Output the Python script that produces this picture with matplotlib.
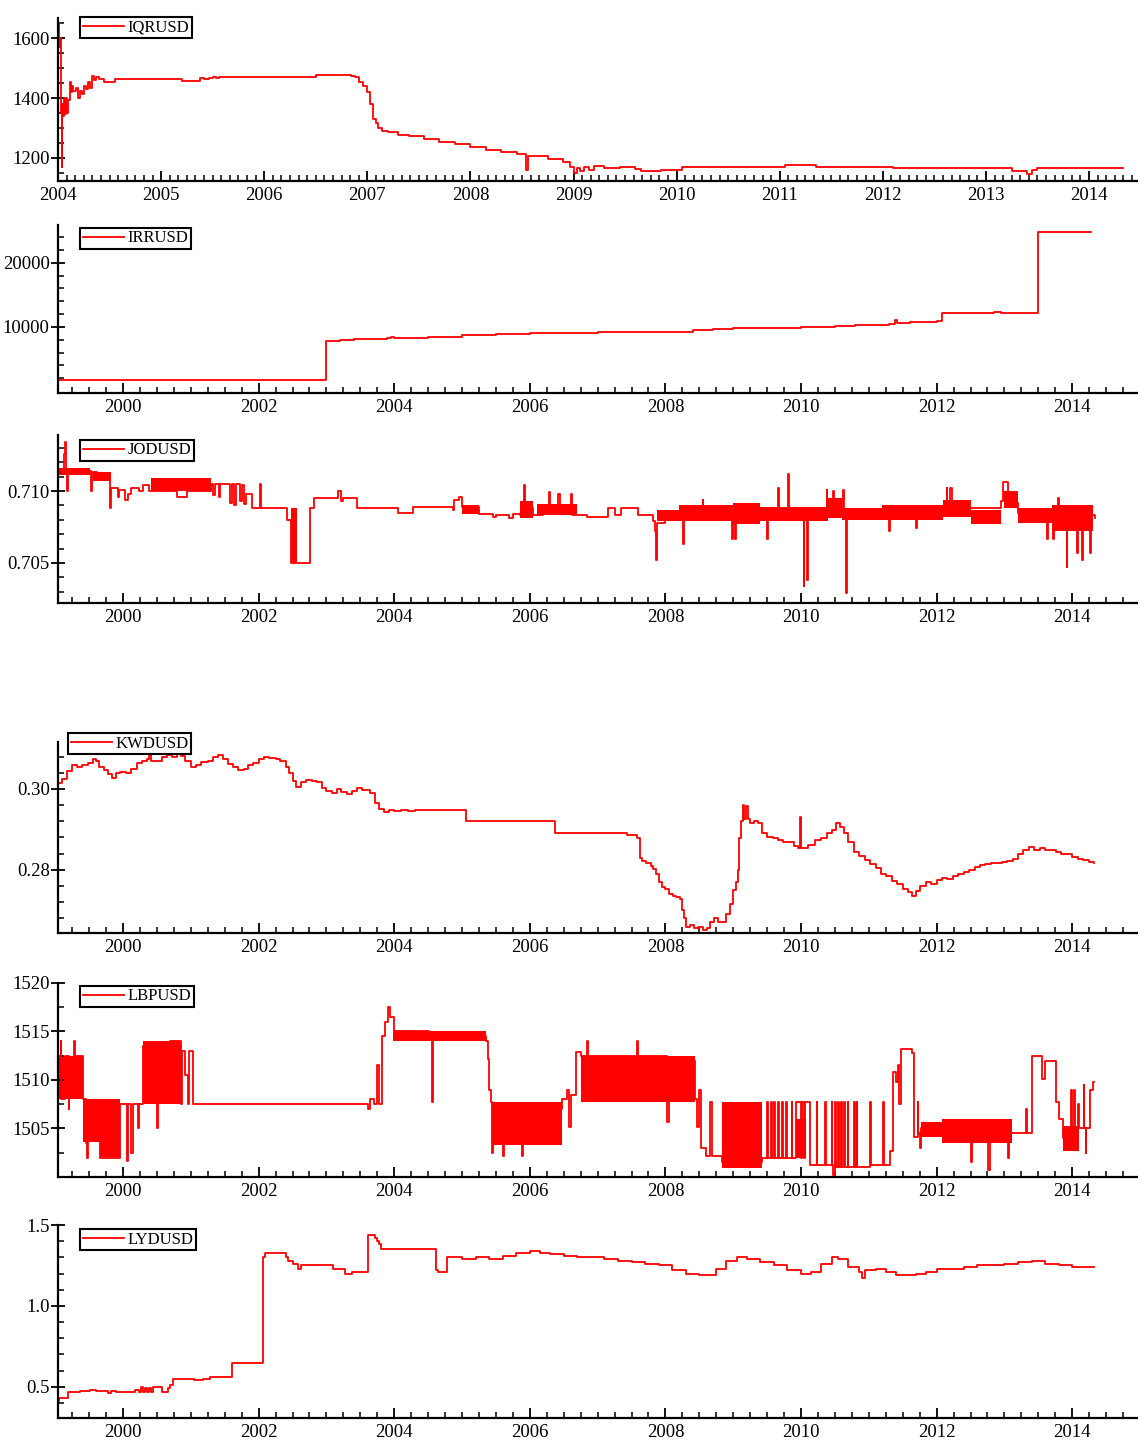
import numpy as np
import matplotlib
matplotlib.use("Agg")
import matplotlib.pyplot as plt
from matplotlib.ticker import FixedLocator, FormatStrFormatter

plt.rcParams['font.family'] = ['Liberation Serif', 'DejaVu Serif']

# ---------------- DATA (decimal years) ----------------
iqr_dates = [2004.00, 2004.008, 2004.015, 2004.025, 2004.035, 2004.04, 2004.05, 2004.06, 2004.07, 2004.08,
             2004.09, 2004.10, 2004.115, 2004.13, 2004.14, 2004.15, 2004.17, 2004.19, 2004.21, 2004.23,
             2004.25, 2004.27, 2004.29, 2004.31, 2004.33, 2004.35, 2004.37, 2004.40, 2004.45, 2004.55,
             2005.20, 2005.38, 2005.42, 2005.46, 2005.50, 2005.53, 2005.56, 2006.50, 2006.80, 2006.84,
             2006.88, 2006.92, 2006.96, 2007.00, 2007.03, 2007.06, 2007.08, 2007.10, 2007.14, 2007.20,
             2007.30, 2007.40, 2007.55, 2007.70, 2007.85, 2008.00, 2008.15, 2008.30, 2008.45, 2008.54,
             2008.56, 2008.60, 2008.75, 2008.90, 2008.97, 2009.00, 2009.03, 2009.06, 2009.10, 2009.15,
             2009.20, 2009.30, 2009.45, 2009.60, 2009.65, 2009.85, 2010.05, 2011.05, 2011.35, 2012.10,
             2013.25, 2013.40, 2013.45, 2013.50, 2014.00, 2014.33]
iqr_vals = [1650, 1570, 1600, 1350, 1170, 1380, 1340, 1400, 1345, 1400,
            1350, 1395, 1455, 1420, 1440, 1425, 1435, 1400, 1425, 1415,
            1440, 1430, 1455, 1435, 1475, 1460, 1470, 1462, 1455, 1462,
            1457, 1468, 1462, 1466, 1470, 1466, 1470, 1476, 1478, 1472,
            1470, 1455, 1440, 1420, 1380, 1330, 1315, 1300, 1290, 1285,
            1278, 1272, 1262, 1252, 1245, 1237, 1228, 1220, 1212, 1160,
            1205, 1205, 1195, 1185, 1170, 1150, 1165, 1155, 1170, 1160,
            1172, 1165, 1170, 1162, 1158, 1160, 1170, 1176, 1170, 1166,
            1158, 1148, 1160, 1166, 1166, 1166]

irr_dates = [1999.04, 2002.99, 2003.20, 2003.40, 2003.90, 2003.95, 2004.00, 2004.50, 2005.00, 2005.50,
             2006.00, 2006.50, 2007.00, 2007.50, 2008.00, 2008.20, 2008.40, 2008.70, 2009.00, 2009.20,
             2009.50, 2010.00, 2010.50, 2010.80, 2011.00, 2011.30, 2011.38, 2011.42, 2011.60, 2011.85,
             2012.00, 2012.08, 2012.85, 2012.95, 2013.50, 2014.28]
irr_vals = [1750, 7800, 7950, 8050, 8250, 8500, 8300, 8500, 8700, 8900,
            9050, 9100, 9200, 9250, 9150, 9250, 9450, 9650, 9850, 9800,
            9850, 9950, 10100, 10300, 10350, 10500, 11100, 10600, 10700, 10800,
            11000, 12200, 12350, 12200, 24750, 24750]

jod_dates = [1999.04, 1999.13, 1999.145, 1999.16, 1999.18, 1999.195, 1999.53, 1999.545, 1999.62, 1999.70,
             1999.78, 1999.815, 1999.83, 1999.92, 1999.94, 2000.03, 2000.07, 2000.12, 2000.24, 2000.30,
             2000.38, 2000.80, 2000.94, 2001.30, 2001.33, 2001.36, 2001.41, 2001.43, 2001.58, 2001.60,
             2001.64, 2001.66, 2001.73, 2001.75, 2001.79, 2001.82, 2001.90, 2002.02, 2002.035, 2002.42,
             2002.48, 2002.76, 2002.81, 2003.17, 2003.21, 2003.24, 2003.45, 2004.06, 2004.27, 2004.86,
             2004.88, 2004.95, 2005.00, 2005.25, 2005.45, 2005.50, 2005.70, 2005.75, 2005.85, 2005.90,
             2005.915, 2005.93, 2006.05, 2006.20, 2006.28, 2006.30, 2006.42, 2006.44, 2006.60, 2006.62,
             2006.85, 2007.15, 2007.25, 2007.35, 2007.60, 2007.82, 2007.85, 2007.86, 2007.87, 2008.00,
             2008.26, 2008.27, 2008.55, 2008.56, 2008.98, 2008.99, 2009.03, 2009.04, 2009.50, 2009.51,
             2009.66, 2009.67, 2009.81, 2009.82, 2010.04, 2010.05, 2010.09, 2010.10,
             2010.38, 2010.39, 2010.47, 2010.48, 2010.62, 2010.63, 2010.66, 2010.675, 2011.30, 2011.31,
             2011.70, 2011.71, 2012.15, 2012.16, 2012.20, 2012.22, 2012.95, 2012.98,
             2013.05, 2013.12, 2013.20, 2013.63, 2013.64, 2013.72, 2013.73, 2013.79, 2013.80, 2013.92,
             2013.93, 2014.07, 2014.08, 2014.15, 2014.16, 2014.26, 2014.27, 2014.34]
jod_vals = [0.7114, 0.7126, 0.7134, 0.7113, 0.7100, 0.7114, 0.7100, 0.7113, 0.7109, 0.7112,
            0.7108, 0.7088, 0.7102, 0.7096, 0.7101, 0.7094, 0.7098, 0.7102, 0.7100, 0.7104,
            0.7100, 0.7096, 0.7100, 0.7105, 0.7097, 0.7105, 0.7096, 0.7105, 0.7092, 0.7105,
            0.7090, 0.7105, 0.7093, 0.7104, 0.7091, 0.7098, 0.7088, 0.7105, 0.7088, 0.7080,
            0.7050, 0.7088, 0.7095, 0.7100, 0.7093, 0.7095, 0.7088, 0.7085, 0.7089, 0.7087,
            0.7094, 0.7096, 0.7089, 0.7084, 0.7082, 0.7083, 0.7081, 0.7084, 0.7083, 0.7090,
            0.7104, 0.7088, 0.7083, 0.7087, 0.7099, 0.7086, 0.7098, 0.7086, 0.7098, 0.7083,
            0.7082, 0.7088, 0.7083, 0.7088, 0.7083, 0.7079, 0.7072, 0.7052, 0.7078, 0.7084,
            0.7063, 0.7084, 0.7094, 0.7084, 0.7067, 0.7084, 0.7067, 0.7084, 0.7067, 0.7084,
            0.7102, 0.7084, 0.7112, 0.7084, 0.7034, 0.7083, 0.7038, 0.7083,
            0.7101, 0.7085, 0.7100, 0.7086, 0.7101, 0.7085, 0.7029, 0.7085, 0.7072, 0.7085,
            0.7074, 0.7085, 0.7102, 0.7088, 0.7102, 0.7088, 0.7093, 0.7106,
            0.7098, 0.7092, 0.7085, 0.7067, 0.7084, 0.7067, 0.7084, 0.7095, 0.7084, 0.7047,
            0.7083, 0.7057, 0.7083, 0.7052, 0.7083, 0.7057, 0.7083, 0.7081]
jod_band_start = [1999.04, 1999.56, 2000.41, 2002.48, 2005.00, 2005.85, 2006.10, 2007.87, 2008.20, 2009.00,
                  2009.40, 2010.40, 2010.60, 2011.20, 2012.10, 2012.50, 2013.00, 2013.20, 2013.70]
jod_band_end = [1999.52, 1999.82, 2001.30, 2002.56, 2005.25, 2006.05, 2006.70, 2008.20, 2009.00, 2009.40,
                2010.40, 2010.60, 2011.20, 2012.10, 2012.50, 2012.95, 2013.20, 2013.70, 2014.30]
jod_band_lo = [0.7111, 0.7107, 0.7100, 0.7050, 0.7084, 0.7081, 0.7083, 0.7079, 0.7079, 0.7077,
               0.7079, 0.7081, 0.7080, 0.7080, 0.7082, 0.7077, 0.7088, 0.7078, 0.7072]
jod_band_hi = [0.7116, 0.7113, 0.7109, 0.7088, 0.7090, 0.7093, 0.7091, 0.7087, 0.7090, 0.7092,
               0.7089, 0.7095, 0.7088, 0.7090, 0.7094, 0.7087, 0.7100, 0.7088, 0.7090]

kwd_dates = [1999.04, 1999.10, 1999.18, 1999.25, 1999.32, 1999.40, 1999.48, 1999.55, 1999.60, 1999.65,
             1999.72, 1999.78, 1999.84, 1999.90, 1999.96, 2000.05, 2000.12, 2000.20, 2000.28, 2000.35,
             2000.38, 2000.42, 2000.50, 2000.58, 2000.65, 2000.72, 2000.80, 2000.86, 2000.92, 2001.00,
             2001.08, 2001.15, 2001.25, 2001.32, 2001.40, 2001.48, 2001.55, 2001.62, 2001.70, 2001.78,
             2001.85, 2001.92, 2002.00, 2002.08, 2002.15, 2002.25, 2002.32, 2002.40, 2002.45, 2002.50,
             2002.55, 2002.62, 2002.70, 2002.78, 2002.86, 2002.93, 2003.00, 2003.08, 2003.15, 2003.22,
             2003.30, 2003.38, 2003.45, 2003.52, 2003.60, 2003.65, 2003.72, 2003.78, 2003.85, 2003.92,
             2004.00, 2004.10, 2004.20, 2004.30, 2004.50, 2005.06, 2006.37, 2007.43, 2007.58, 2007.62,
             2007.66, 2007.72, 2007.78, 2007.82, 2007.86, 2007.90, 2007.95, 2008.00, 2008.05, 2008.11,
             2008.16, 2008.21, 2008.24, 2008.27, 2008.31, 2008.36, 2008.42, 2008.48, 2008.55, 2008.62,
             2008.66, 2008.72, 2008.78, 2008.85, 2008.90, 2008.95, 2009.00, 2009.04, 2009.07, 2009.09,
             2009.12, 2009.14, 2009.16, 2009.19, 2009.22, 2009.25, 2009.30, 2009.36, 2009.42, 2009.50,
             2009.58, 2009.66, 2009.74, 2009.82, 2009.90, 2009.96, 2009.99, 2010.00, 2010.10, 2010.20,
             2010.30, 2010.38, 2010.45, 2010.52, 2010.58, 2010.64, 2010.70, 2010.78, 2010.86, 2010.94,
             2011.02, 2011.10, 2011.18, 2011.26, 2011.34, 2011.42, 2011.50, 2011.58, 2011.64, 2011.70,
             2011.76, 2011.84, 2011.92, 2012.00, 2012.08, 2012.16, 2012.24, 2012.32, 2012.40, 2012.48,
             2012.56, 2012.64, 2012.72, 2012.80, 2012.88, 2012.96, 2013.04, 2013.12, 2013.20, 2013.28,
             2013.36, 2013.44, 2013.52, 2013.60, 2013.68, 2013.76, 2013.84, 2013.92, 2014.00, 2014.08,
             2014.16, 2014.24, 2014.32]
kwd_vals = [0.3015, 0.3025, 0.3045, 0.3058, 0.3055, 0.3060, 0.3065, 0.3075, 0.3070, 0.3055,
            0.3048, 0.3038, 0.3026, 0.3040, 0.3042, 0.3040, 0.3050, 0.3064, 0.3068, 0.3074,
            0.3088, 0.3070, 0.3068, 0.3078, 0.3085, 0.3078, 0.3088, 0.3082, 0.3070, 0.3055,
            0.3058, 0.3066, 0.3070, 0.3078, 0.3083, 0.3075, 0.3062, 0.3053, 0.3048, 0.3050,
            0.3060, 0.3065, 0.3075, 0.3080, 0.3077, 0.3075, 0.3068, 0.3055, 0.3040, 0.3020,
            0.3005, 0.3018, 0.3022, 0.3020, 0.3016, 0.3003, 0.2995, 0.2990, 0.3000, 0.2992,
            0.2988, 0.2995, 0.3003, 0.2998, 0.2998, 0.2990, 0.2965, 0.2950, 0.2943, 0.2947,
            0.2945, 0.2948, 0.2946, 0.2949, 0.2948, 0.2920, 0.2890, 0.2887, 0.2880, 0.2830,
            0.2822, 0.2818, 0.2810, 0.2802, 0.2790, 0.2770, 0.2757, 0.2752, 0.2740, 0.2735,
            0.2733, 0.2728, 0.2700, 0.2680, 0.2660, 0.2665, 0.2656, 0.2660, 0.2652, 0.2656,
            0.2670, 0.2680, 0.2672, 0.2670, 0.2690, 0.2715, 0.2750, 0.2770, 0.2800, 0.2880,
            0.2920, 0.2960, 0.2925, 0.2958, 0.2925, 0.2915, 0.2922, 0.2915, 0.2890, 0.2882,
            0.2878, 0.2875, 0.2870, 0.2868, 0.2860, 0.2855, 0.2930, 0.2855, 0.2862, 0.2875,
            0.2880, 0.2892, 0.2898, 0.2915, 0.2905, 0.2890, 0.2870, 0.2845, 0.2835, 0.2825,
            0.2815, 0.2805, 0.2790, 0.2785, 0.2772, 0.2765, 0.2752, 0.2745, 0.2735, 0.2748,
            0.2760, 0.2770, 0.2765, 0.2775, 0.2780, 0.2778, 0.2785, 0.2790, 0.2795, 0.2800,
            0.2808, 0.2812, 0.2815, 0.2818, 0.2816, 0.2820, 0.2822, 0.2828, 0.2838, 0.2848,
            0.2857, 0.2850, 0.2855, 0.2848, 0.2850, 0.2845, 0.2838, 0.2840, 0.2832, 0.2828,
            0.2825, 0.2820, 0.2818]

lbp_dates = [1999.04, 1999.08, 1999.09, 1999.14, 1999.20, 1999.21, 1999.28, 1999.29, 1999.41, 1999.45,
             1999.47, 1999.48, 1999.66, 1999.95, 2000.06, 2000.08, 2000.12, 2000.14, 2000.22, 2000.24,
             2000.30, 2000.50, 2000.52, 2000.70, 2000.85, 2000.87, 2000.92, 2000.96, 2000.98, 2001.03,
             2003.62, 2003.64, 2003.70, 2003.74, 2003.78, 2003.82, 2003.86, 2003.91, 2003.94, 2004.00,
             2004.52, 2004.55, 2004.57, 2005.35, 2005.38, 2005.40, 2005.42, 2005.44, 2005.46, 2005.60,
             2005.62, 2005.88, 2005.90, 2006.48, 2006.55, 2006.58, 2006.60, 2006.68, 2006.76, 2006.84,
             2006.86, 2007.58, 2007.60, 2008.03, 2008.05, 2008.43, 2008.47, 2008.50, 2008.53, 2008.60,
             2008.66, 2008.68, 2008.84, 2009.43, 2009.50, 2009.51, 2009.56, 2009.57, 2009.60, 2009.61,
             2009.66, 2009.67, 2009.72, 2009.73, 2009.78, 2009.79, 2009.86, 2009.87, 2009.92, 2010.00,
             2010.01, 2010.05, 2010.06, 2010.13, 2010.23, 2010.24, 2010.36, 2010.37, 2010.45, 2010.46,
             2010.47, 2010.50, 2010.51, 2010.55, 2010.56, 2010.59, 2010.60, 2010.64, 2010.65, 2010.69,
             2010.70, 2010.78, 2010.79, 2010.82, 2010.83, 2011.02, 2011.03, 2011.21, 2011.22, 2011.31,
             2011.35, 2011.40, 2011.43, 2011.45, 2011.47, 2011.64, 2011.66, 2011.72, 2011.73, 2011.75,
             2011.77, 2012.08, 2012.50, 2012.52, 2012.76, 2012.78, 2013.05, 2013.07, 2013.11, 2013.32,
             2013.33, 2013.40, 2013.56, 2013.60, 2013.76, 2013.80, 2013.86, 2013.98, 2013.99, 2014.03,
             2014.04, 2014.09, 2014.10, 2014.17, 2014.18, 2014.20, 2014.21, 2014.26, 2014.30, 2014.32]
lbp_vals = [1512.5, 1514.0, 1508.0, 1512.5, 1507.0, 1512.0, 1514.0, 1512.5, 1508.0, 1503.5,
            1502.0, 1507.5, 1502.0, 1507.5, 1501.7, 1507.5, 1502.5, 1507.5, 1505.0, 1507.5,
            1513.5, 1505.0, 1513.5, 1514.0, 1507.5, 1513.0, 1510.5, 1507.5, 1513.0, 1507.5,
            1507.0, 1508.0, 1507.5, 1511.5, 1507.5, 1514.5, 1516.0, 1517.5, 1516.5, 1515.0,
            1514.5, 1507.7, 1514.5, 1514.0, 1512.2, 1509.0, 1507.7, 1502.5, 1507.5, 1502.2,
            1507.0, 1502.2, 1507.0, 1508.0, 1509.0, 1505.2, 1508.5, 1512.9, 1512.5, 1514.0,
            1512.5, 1514.0, 1512.5, 1505.7, 1512.0, 1508.0, 1505.2, 1509.0, 1503.0, 1502.2,
            1507.7, 1502.2, 1501.5, 1502.0, 1507.7, 1502.0, 1507.7, 1502.0, 1507.7, 1502.0,
            1507.7, 1502.0, 1507.7, 1502.0, 1507.7, 1502.0, 1507.7, 1502.0, 1507.7, 1502.0,
            1507.7, 1502.0, 1507.7, 1501.2, 1507.7, 1501.2, 1507.7, 1501.2, 1507.7, 1501.2,
            1500.2, 1507.7, 1501.0, 1507.7, 1501.0, 1507.7, 1501.0, 1507.7, 1501.0, 1507.7,
            1501.0, 1507.7, 1501.0, 1507.7, 1501.0, 1507.7, 1501.2, 1507.7, 1501.2, 1502.7,
            1510.8, 1509.8, 1511.5, 1507.5, 1513.2, 1512.8, 1504.1, 1507.7, 1504.5, 1503.0,
            1505.0, 1505.0, 1501.5, 1504.5, 1500.7, 1504.5, 1502.0, 1504.5, 1504.5, 1507.0,
            1504.5, 1512.5, 1510.1, 1512.0, 1507.7, 1506.0, 1504.0, 1509.0, 1504.0, 1509.0,
            1504.0, 1507.5, 1505.0, 1509.5, 1505.0, 1502.5, 1505.0, 1509.0, 1509.8, 1509.8]
lbp_band_start = [1999.04, 1999.41, 1999.66, 2000.30, 2003.98, 2005.46, 2006.76, 2008.84, 2009.93, 2011.77,
                  2012.08, 2013.86]
lbp_band_end = [1999.41, 1999.66, 1999.95, 2000.85, 2005.35, 2006.48, 2008.43, 2009.43, 2010.07, 2012.08,
                2013.11, 2014.10]
lbp_band_lo = [1508.0, 1503.6, 1502.1, 1507.5, 1514.0, 1503.3, 1507.7, 1500.9, 1502.0, 1504.1,
               1503.5, 1502.7]
lbp_band_hi = [1512.5, 1508.0, 1508.0, 1514.0, 1515.0, 1507.7, 1512.5, 1507.7, 1506.0, 1505.7,
               1506.0, 1505.3]

lyd_dates = [1999.04, 1999.06, 1999.19, 1999.37, 1999.51, 1999.60, 1999.78, 1999.82, 1999.90, 2000.00,
             2000.13, 2000.18, 2000.24, 2000.26, 2000.30, 2000.32, 2000.36, 2000.38, 2000.42, 2000.44,
             2000.58, 2000.66, 2000.70, 2000.74, 2001.05, 2001.18, 2001.28, 2001.60, 2002.07, 2002.10,
             2002.40, 2002.44, 2002.50, 2002.58, 2002.62, 2002.75, 2003.10, 2003.27, 2003.37, 2003.62,
             2003.71, 2003.74, 2003.77, 2003.80, 2004.62, 2004.65, 2004.78, 2005.00, 2005.20, 2005.40,
             2005.60, 2005.80, 2006.00, 2006.15, 2006.30, 2006.50, 2006.70, 2006.90, 2007.10, 2007.30,
             2007.50, 2007.70, 2007.90, 2008.10, 2008.30, 2008.50, 2008.60, 2008.75, 2008.90, 2009.05,
             2009.20, 2009.40, 2009.60, 2009.80, 2010.00, 2010.15, 2010.30, 2010.45, 2010.55, 2010.70,
             2010.85, 2010.90, 2010.95, 2011.10, 2011.25, 2011.40, 2011.55, 2011.70, 2011.85, 2012.00,
             2012.20, 2012.40, 2012.60, 2012.80, 2013.00, 2013.20, 2013.40, 2013.60, 2013.80, 2014.00,
             2014.20, 2014.32]
lyd_vals = [0.41, 0.43, 0.465, 0.475, 0.48, 0.475, 0.46, 0.475, 0.47, 0.465,
            0.47, 0.48, 0.47, 0.50, 0.47, 0.49, 0.465, 0.49, 0.465, 0.50,
            0.465, 0.49, 0.51, 0.55, 0.54, 0.55, 0.56, 0.65, 1.305, 1.325,
            1.30, 1.28, 1.26, 1.23, 1.25, 1.25, 1.23, 1.195, 1.21, 1.44,
            1.42, 1.40, 1.38, 1.35, 1.22, 1.21, 1.30, 1.29, 1.30, 1.29,
            1.31, 1.33, 1.34, 1.33, 1.32, 1.31, 1.30, 1.30, 1.29, 1.28,
            1.27, 1.26, 1.25, 1.22, 1.20, 1.19, 1.19, 1.23, 1.28, 1.30,
            1.29, 1.27, 1.25, 1.22, 1.20, 1.21, 1.26, 1.30, 1.29, 1.24,
            1.21, 1.17, 1.22, 1.23, 1.21, 1.19, 1.19, 1.20, 1.21, 1.23,
            1.23, 1.24, 1.25, 1.25, 1.26, 1.27, 1.28, 1.26, 1.25, 1.24,
            1.24, 1.24]

# ---------------- LAYOUT ----------------
W, H = 1138, 1443
fig = plt.figure(figsize=(W / 100, H / 100), dpi=100)
RED = '#ff0000'
LW = 1.3
TICKFS = 13.5


def make_ax(top, bottom, left=58, right=1138):
    return fig.add_axes([left / W, 1 - bottom / H, (right - left) / W, (bottom - top) / H])


def style(ax, xlim, ylim, xmajor, xminor, ymajor, yminor, yfmt, leg_xy):
    ax.set_xlim(*xlim)
    ax.set_ylim(*ylim)
    for s in ['top', 'right']:
        ax.spines[s].set_visible(False)
    for s in ['left', 'bottom']:
        ax.spines[s].set_linewidth(1.6)
    ax.xaxis.set_major_locator(FixedLocator(xmajor))
    ax.xaxis.set_minor_locator(FixedLocator(xminor))
    ax.yaxis.set_major_locator(FixedLocator(ymajor))
    ax.yaxis.set_minor_locator(FixedLocator(yminor))
    ax.xaxis.set_major_formatter(FormatStrFormatter('%d'))
    ax.yaxis.set_major_formatter(FormatStrFormatter(yfmt))
    ax.tick_params(axis='x', which='major', direction='in', length=7, width=1.3, labelsize=TICKFS, pad=4)
    ax.tick_params(axis='x', which='minor', direction='in', length=4, width=1.1)
    ax.tick_params(axis='y', which='major', direction='inout', length=10, width=1.3, labelsize=TICKFS, pad=1)
    ax.tick_params(axis='y', which='minor', direction='in', length=4, width=1.1)
    leg = ax.legend(loc='upper left', bbox_to_anchor=(leg_xy[0] / W, 1 - leg_xy[1] / H),
                    bbox_transform=fig.transFigure, borderaxespad=0, fontsize=12,
                    fancybox=False, framealpha=1, edgecolor='black', handlelength=2.5,
                    handletextpad=0.2, borderpad=0.15)
    leg.get_frame().set_linewidth(1.5)


def bands(ax, s, e, lo, hi):
    for a, b, l, h in zip(s, e, lo, hi):
        ax.fill_between([a, b], [l, l], [h, h], color=RED, lw=0)


years_wide = list(range(2000, 2015, 2))
quarters_wide = [y + q / 4 for y in range(1999, 2015) for q in range(4)]
xl_wide = (1999.041, 2014.97)

# Panel 1: IQRUSD
ax = make_ax(18, 181)
ax.step(iqr_dates, iqr_vals, where='post', color=RED, lw=LW, label='IQRUSD')
style(ax, (2004.0, 2014.475), (1123, 1667), list(range(2004, 2015)),
      [y + m / 12 for y in range(2004, 2015) for m in range(12)],
      [1200, 1400, 1600], list(range(1150, 1700, 50)), '%d', (80, 17))

# Panel 2: IRRUSD
ax = make_ax(225, 393)
ax.step(irr_dates, irr_vals, where='post', color=RED, lw=LW, label='IRRUSD')
style(ax, xl_wide, (-300, 25900), years_wide, quarters_wide,
      [10000, 20000], list(range(2000, 26000, 2000)), '%d', (80, 228))

# Panel 3: JODUSD
ax = make_ax(435, 603)
bands(ax, jod_band_start, jod_band_end, jod_band_lo, jod_band_hi)
ax.step(jod_dates, jod_vals, where='post', color=RED, lw=LW, label='JODUSD')
style(ax, xl_wide, (0.70222, 0.71389), years_wide, quarters_wide,
      [0.705, 0.710], [0.703 + 0.001 * i for i in range(11)], '%.3f', (80, 440))

# Panel 4: KWDUSD
ax = make_ax(742, 933)
ax.step(kwd_dates, kwd_vals, where='post', color=RED, lw=LW, label='KWDUSD')
style(ax, xl_wide, (0.2644, 0.3116), years_wide, quarters_wide,
      [0.28, 0.30], [0.268 + 0.004 * i for i in range(12)], '%.2f', (68, 733))

# Panel 5: LBPUSD
ax = make_ax(983, 1177)
bands(ax, lbp_band_start, lbp_band_end, lbp_band_lo, lbp_band_hi)
ax.step(lbp_dates, lbp_vals, where='post', color=RED, lw=LW, label='LBPUSD')
style(ax, xl_wide, (1500, 1520), years_wide, quarters_wide,
      [1505, 1510, 1515, 1520], [1502.5 + 2.5 * i for i in range(8)], '%d', (80, 986))

# Panel 6: LYDUSD
ax = make_ax(1225, 1418)
ax.step(lyd_dates, lyd_vals, where='post', color=RED, lw=LW, label='LYDUSD')
style(ax, xl_wide, (0.307, 1.5), years_wide, quarters_wide,
      [0.5, 1.0, 1.5], [0.4 + 0.1 * i for i in range(11)], '%.1f', (80, 1229))

fig.savefig('out.png', dpi=100)
